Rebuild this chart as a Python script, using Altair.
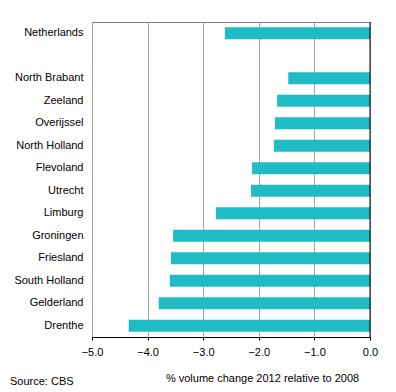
import altair as alt
import pandas as pd

regions = ["Netherlands", "North Brabant", "Zeeland", "Overijssel", "North Holland",
           "Flevoland", "Utrecht", "Limburg", "Groningen", "Friesland",
           "South Holland", "Gelderland", "Drenthe"]
values = [-2.61, -1.47, -1.67, -1.71, -1.73, -2.12, -2.14, -2.77, -3.54, -3.58,
          -3.60, -3.80, -4.34]
order = ["Netherlands", " "] + regions[1:]
ticks = [-5, -4, -3, -2, -1, 0]

df = pd.DataFrame({"region": regions, "value": values})

font = "Liberation Sans"

bars = alt.Chart(df).mark_bar(color="#1fbcc6", size=12).encode(
    x=alt.X("value:Q",
            scale=alt.Scale(domain=[-5, 0], nice=False, zero=False),
            axis=alt.Axis(values=ticks, format=".1f", grid=True, gridColor="#a6a6a6",
                          domainColor="black", tickColor="black", tickSize=3,
                          labelFont=font, labelFontSize=11, labelColor="black",
                          labelPadding=6, labelFlush=False,
                          title="% volume change 2012 relative to 2008",
                          titleFont=font, titleFontSize=11, titleFontWeight="normal",
                          titleColor="black", titleX=170, titleY=44,
                          titleAlign="center", titleBaseline="alphabetic")),
    y=alt.Y("region:N", sort=order,
            scale=alt.Scale(domain=order, paddingInner=0.4, paddingOuter=0.2),
            axis=alt.Axis(title=None, ticks=False, domain=False, labelFont=font,
                          labelFontSize=11, labelColor="black", labelPadding=9)),
)

zero = alt.Chart(pd.DataFrame({"z": [0]})).mark_rule(color="black", strokeWidth=1).encode(
    x="z:Q"
)

chart = alt.layer(bars, zero).properties(
    width=278, height=315,
    autosize=alt.AutoSizeParams(type="none"),
    padding={"left": 84, "top": 14, "right": 18, "bottom": 63},
    title=alt.TitleParams("Source: CBS", orient="bottom", anchor="start", frame="group",
                          font=font, fontSize=11, fontWeight="normal", color="black",
                          dx=-82, dy=-11),
).configure_view(stroke="#808080", strokeWidth=1)

chart.save("out.html", embed_options={"renderer": "svg", "actions": False})
